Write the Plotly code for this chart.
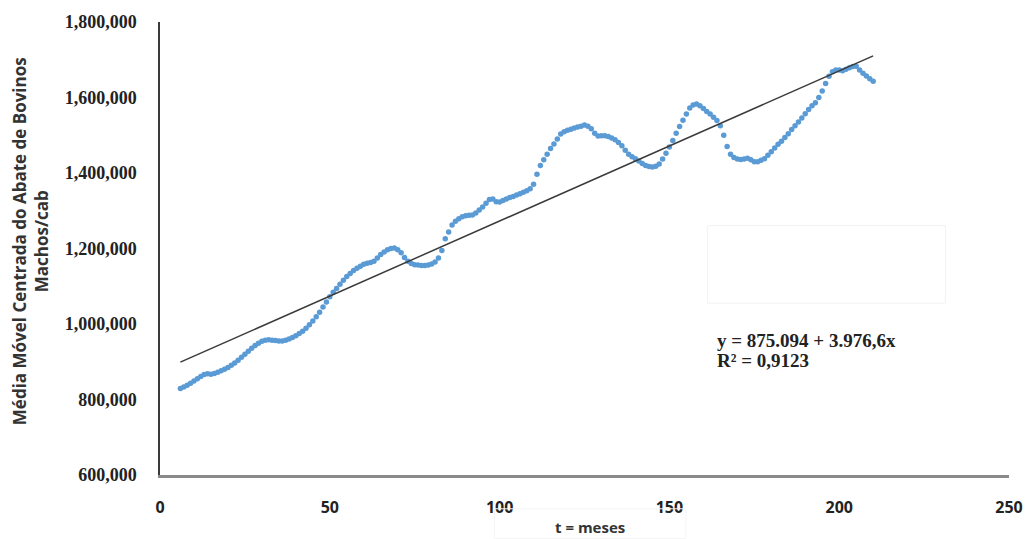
import plotly.graph_objects as go

# ---- data ----
t_meses = list(range(6, 211))
media_movel = [
    829000, 833000, 838000, 843000, 849000, 855000, 861000, 866000, 868000, 867000,
    869000, 872000, 876000, 880000, 885000, 891000, 897000, 904000, 912000, 920000,
    928000, 936000, 943000, 949000, 954000, 957000, 958000, 957000, 956000, 955000,
    955000, 957000, 960000, 964000, 969000, 975000, 981000, 989000, 998000, 1008000,
    1019000, 1031000, 1045000, 1058000, 1072000,
    1084000, 1094000, 1105000, 1116000, 1126000, 1134000, 1142000, 1148000, 1153000, 1158000,
    1161000, 1163000, 1166000, 1175000, 1184000, 1191000, 1197000, 1200000, 1201000, 1197000,
    1189000, 1176000, 1166000, 1160000, 1157000, 1156000, 1155000, 1155000, 1156000, 1159000,
    1164000, 1175000, 1195000, 1226000, 1244000, 1262000, 1272000, 1279000, 1284000, 1287000,
    1288000, 1289000, 1294000, 1302000, 1310000, 1320000, 1330000, 1331000,
    1324000, 1323000, 1327000, 1331000, 1335000, 1338000, 1342000, 1345000, 1349000, 1353000,
    1358000, 1370000, 1397000, 1420000, 1435000, 1450000, 1465000, 1477000, 1490000, 1503000,
    1509000, 1513000, 1516000, 1519000, 1522000, 1524000, 1527000, 1524000, 1517000, 1505000,
    1498000, 1499000, 1499000, 1497000, 1493000, 1488000, 1481000, 1472000, 1460000, 1450000,
    1443000, 1438000, 1432000, 1425000, 1420000, 1417000, 1416000, 1418000, 1424000, 1437000,
    1452000, 1469000, 1486000, 1505000, 1523000, 1540000, 1556000, 1572000, 1580000, 1583000,
    1578000, 1571000, 1563000, 1556000, 1548000, 1539000, 1525000, 1500000, 1470000, 1450000,
    1441000, 1437000, 1436000, 1437000, 1439000, 1435000, 1430000, 1430000, 1434000, 1438000,
    1447000, 1456000, 1466000, 1476000, 1484000, 1494000, 1504000, 1515000, 1525000, 1535000,
    1546000, 1557000, 1568000, 1578000, 1586000, 1600000, 1617000, 1637000, 1656000, 1668000,
    1673000, 1673000, 1671000, 1675000, 1679000, 1682000, 1683000, 1673000, 1664000, 1657000,
    1650000, 1643000,
]

# linear trend (from the chart's equation)
intercepto = 875094
inclinacao = 3976.6
trend_x = [t_meses[0], t_meses[-1]]
trend_y = [intercepto + inclinacao * x for x in trend_x]

y_ticks = [600000, 800000, 1000000, 1200000, 1400000, 1600000, 1800000]
x_ticks = [0, 50, 100, 150, 200, 250]

# ---- figure ----
fig = go.Figure()
fig.add_trace(go.Scatter(
    x=t_meses, y=media_movel, mode="markers",
    marker=dict(size=5.5, color="#5b9bd5", line=dict(width=0)),
    showlegend=False, hoverinfo="skip",
))
fig.add_trace(go.Scatter(
    x=trend_x, y=trend_y, mode="lines",
    line=dict(color="#3a3a3a", width=1.5),
    showlegend=False, hoverinfo="skip",
))

L, R, T, B = 159.5, 19, 19, 64
W, H = 1035, 539
pw, ph = W - L - R, H - T - B

def px(xp):
    return (xp - L) / pw

def py(yp):
    return (H - B - yp) / ph

serif = "Liberation Serif"
sans = "Open Sans"

fig.update_layout(
    width=W, height=H,
    margin=dict(l=L, r=R, t=T, b=B, pad=0),
    paper_bgcolor="white", plot_bgcolor="white",
    xaxis=dict(
        range=[0, 250], tickvals=x_ticks, ticks="", showgrid=False, zeroline=False,
        showline=True, linecolor="#8a8a8a", linewidth=2.5,
        tickfont=dict(family=sans, size=16, color="#222", weight="bold"),
        ticklabelstandoff=16,
    ),
    yaxis=dict(
        range=[600000, 1800000], tickvals=y_ticks, tickformat=",", ticks="",
        showgrid=False, zeroline=False,
        showline=True, linecolor="#3a3a3a", linewidth=1.5,
        tickfont=dict(family=serif, size=18, color="#222", weight="bold"),
        ticklabelstandoff=18,
    ),
    annotations=[
        dict(text="Média Móvel Centrada do Abate de Bovinos<br>Machos/cab",
             xref="paper", yref="paper", x=px(29), y=py(240),
             xanchor="center", yanchor="middle", textangle=-90, showarrow=False,
             font=dict(family=sans, size=17, color="#333", weight="bold")),
        dict(text="t = meses", xref="paper", yref="paper", x=px(593), y=py(527),
             xanchor="center", yanchor="middle", showarrow=False,
             font=dict(family=sans, size=15, color="#333", weight="bold")),
        dict(text="y = 875.094 + 3.976,6x", xref="paper", yref="paper",
             x=px(719), y=py(340), xanchor="left", yanchor="middle", showarrow=False,
             font=dict(family=serif, size=19, color="#222", weight="bold")),
        dict(text="R² = 0,9123", xref="paper", yref="paper",
             x=px(719), y=py(360), xanchor="left", yanchor="middle", showarrow=False,
             font=dict(family=serif, size=19, color="#222", weight="bold")),
    ],
    shapes=[
        dict(type="rect", xref="paper", yref="paper",
             x0=px(712), x1=px(952), y0=py(302), y1=py(224),
             line=dict(color="#f2f2f2", width=1), fillcolor="rgba(0,0,0,0)"),
        dict(type="rect", xref="paper", yref="paper",
             x0=px(497), x1=px(690), y0=py(539), y1=py(509),
             line=dict(color="#f4f4f4", width=1), fillcolor="rgba(0,0,0,0)"),
    ],
)

fig.write_html("out.html")
